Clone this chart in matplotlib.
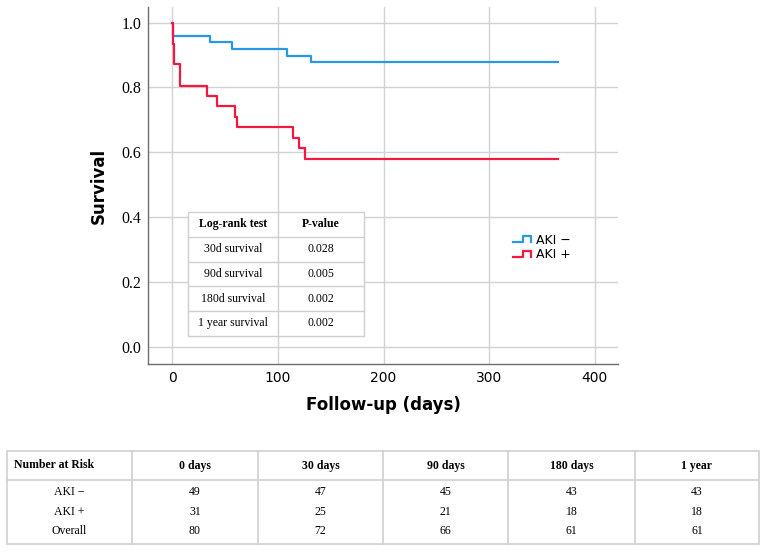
import matplotlib

matplotlib.use("Agg")
import matplotlib.pyplot as plt
from matplotlib.legend_handler import HandlerBase
from matplotlib.lines import Line2D
from matplotlib.patches import Rectangle

# Kaplan-Meier step data
aki_neg_days = [0, 1, 36, 57, 109, 131, 365]
aki_neg_surv = [1.0, 0.959, 0.939, 0.918, 0.898, 0.878, 0.878]
aki_pos_days = [0, 0.5, 1, 1.5, 2, 7, 33, 42, 59, 61, 114, 120, 126, 365]
aki_pos_surv = [1.0, 0.968, 0.935, 0.903, 0.871, 0.806, 0.774, 0.742,
                0.710, 0.677, 0.645, 0.613, 0.581, 0.581]

x_ticks = [0, 100, 200, 300, 400]
y_ticks = [0.0, 0.2, 0.4, 0.6, 0.8, 1.0]

logrank_header = ["Log-rank test", "P-value"]
logrank_tests = ["30d survival", "90d survival", "180d survival", "1 year survival"]
logrank_pvalues = ["0.028", "0.005", "0.002", "0.002"]

risk_header = ["Number at Risk", "0 days", "30 days", "90 days", "180 days", "1 year"]
risk_groups = ["AKI \u2212", "AKI +", "Overall"]
risk_aki_neg = [49, 47, 45, 43, 43]
risk_aki_pos = [31, 25, 21, 18, 18]
risk_overall = [80, 72, 66, 61, 61]

BLUE = "#2797e6"
RED = "#f2183f"
GRID = "#d2d2d2"
TABLE_EDGE = "#cfcfcf"
SERIF = "Liberation Serif"
SANS = "DejaVu Sans"


class StepHandler(HandlerBase):
    """Small step glyph like the SPSS legend."""

    def create_artists(self, legend, orig_handle, xdescent, ydescent,
                       width, height, fontsize, trans):
        lo = height * 0.15 - ydescent
        hi = height * 0.85 - ydescent
        xs = [-xdescent, -xdescent + 0.55 * width, -xdescent + 0.55 * width,
              -xdescent + width, -xdescent + width]
        ys = [lo, lo, hi, hi, lo]
        line = Line2D(xs, ys, color=orig_handle.get_color(),
                      linewidth=orig_handle.get_linewidth(), transform=trans)
        return [line]


fig = plt.figure(figsize=(7.65, 5.53), dpi=100)
fig.patch.set_facecolor("white")
ax = fig.add_axes([148 / 765, 1 - 364 / 553, 470 / 765, 357 / 553])

neg_line, = ax.step(aki_neg_days, aki_neg_surv, where="post", color=BLUE,
                    linewidth=1.6, zorder=3)
pos_line, = ax.step(aki_pos_days, aki_pos_surv, where="post", color=RED,
                    linewidth=1.6, zorder=3)

ax.set_xlim(-23, 422)
ax.set_ylim(-0.052, 1.048)
ax.set_xticks(x_ticks)
ax.set_yticks(y_ticks)
ax.set_xticklabels([str(t) for t in x_ticks], fontfamily=SANS, fontsize=10)
ax.set_yticklabels([f"{t:.1f}" for t in y_ticks], fontfamily=SERIF, fontsize=11.5)
ax.tick_params(length=0, pad=5)
ax.grid(True, color=GRID, linewidth=1.0)
ax.set_axisbelow(True)
for side in ("top", "right"):
    ax.spines[side].set_visible(False)
for side in ("left", "bottom"):
    ax.spines[side].set_color("#6e6e6e")
    ax.spines[side].set_linewidth(1.0)

ax.set_xlabel("Follow-up (days)", fontfamily=SANS, fontweight="bold",
              fontsize=12, labelpad=8)
ax.set_ylabel("Survival", fontfamily=SANS, fontweight="bold", fontsize=12,
              labelpad=10)

leg = ax.legend([neg_line, pos_line], ["AKI \u2212", "AKI +"],
                handler_map={Line2D: StepHandler()},
                loc="upper left", bbox_to_anchor=(0.777, 0.365),
                frameon=False, borderpad=0, borderaxespad=0,
                handlelength=1.4, handletextpad=0.4,
                labelspacing=0.1, prop={"family": SANS, "size": 9})

# overlay in pixel coordinates for the two tables
ov = fig.add_axes([0, 0, 1, 1], zorder=5)
ov.set_xlim(0, 765)
ov.set_ylim(553, 0)
ov.axis("off")
ov.patch.set_alpha(0)

# inset log-rank table
lr_x = [188, 278, 364]
lr_y = [212, 236.5, 261.5, 286, 311, 335.5]
ov.add_patch(Rectangle((lr_x[0], lr_y[0]), lr_x[2] - lr_x[0], lr_y[-1] - lr_y[0],
                       facecolor="white", edgecolor=TABLE_EDGE, linewidth=1.0))
ov.plot([lr_x[1], lr_x[1]], [lr_y[0], lr_y[-1]], color=TABLE_EDGE, linewidth=1.0)
for yy in lr_y[1:-1]:
    ov.plot([lr_x[0], lr_x[2]], [yy, yy], color=TABLE_EDGE, linewidth=1.0)
for j, head in enumerate(logrank_header):
    ov.text((lr_x[j] + lr_x[j + 1]) / 2, (lr_y[0] + lr_y[1]) / 2, head,
            ha="center", va="center", fontfamily=SERIF, fontweight="bold",
            fontsize=8.5)
for i, (name, pval) in enumerate(zip(logrank_tests, logrank_pvalues)):
    yc = (lr_y[i + 1] + lr_y[i + 2]) / 2
    ov.text((lr_x[0] + lr_x[1]) / 2, yc, name, ha="center", va="center",
            fontfamily=SERIF, fontsize=8.5)
    ov.text((lr_x[1] + lr_x[2]) / 2, yc, pval, ha="center", va="center",
            fontfamily=SERIF, fontsize=8.5)

# number at risk table
rk_x = [7, 132, 258, 383, 508, 635, 759]
rk_top, rk_sep, rk_bot = 451, 480, 544
row_y = [492, 512, 531]
ov.add_patch(Rectangle((rk_x[0], rk_top), rk_x[-1] - rk_x[0], rk_bot - rk_top,
                       facecolor="white", edgecolor=TABLE_EDGE, linewidth=1.2))
ov.plot([rk_x[0], rk_x[-1]], [rk_sep, rk_sep], color=TABLE_EDGE, linewidth=1.2)
for xx in rk_x[1:-1]:
    ov.plot([xx, xx], [rk_top, rk_bot], color=TABLE_EDGE, linewidth=1.2)

head_y = (rk_top + rk_sep) / 2
ov.text(rk_x[0] + 7, head_y, risk_header[0], ha="left", va="center",
        fontfamily=SERIF, fontweight="bold", fontsize=8.5)
for j, head in enumerate(risk_header[1:], start=1):
    ov.text((rk_x[j] + rk_x[j + 1]) / 2, head_y, head, ha="center", va="center",
            fontfamily=SERIF, fontweight="bold", fontsize=8.5)

for yy, group, counts in zip(row_y, risk_groups,
                             [risk_aki_neg, risk_aki_pos, risk_overall]):
    ov.text((rk_x[0] + rk_x[1]) / 2, yy, group, ha="center", va="center",
            fontfamily=SERIF, fontsize=8.5)
    for j, n in enumerate(counts, start=1):
        ov.text((rk_x[j] + rk_x[j + 1]) / 2, yy, str(n), ha="center",
                va="center", fontfamily=SERIF, fontsize=8.5)

fig.savefig("out.png", dpi=100)
